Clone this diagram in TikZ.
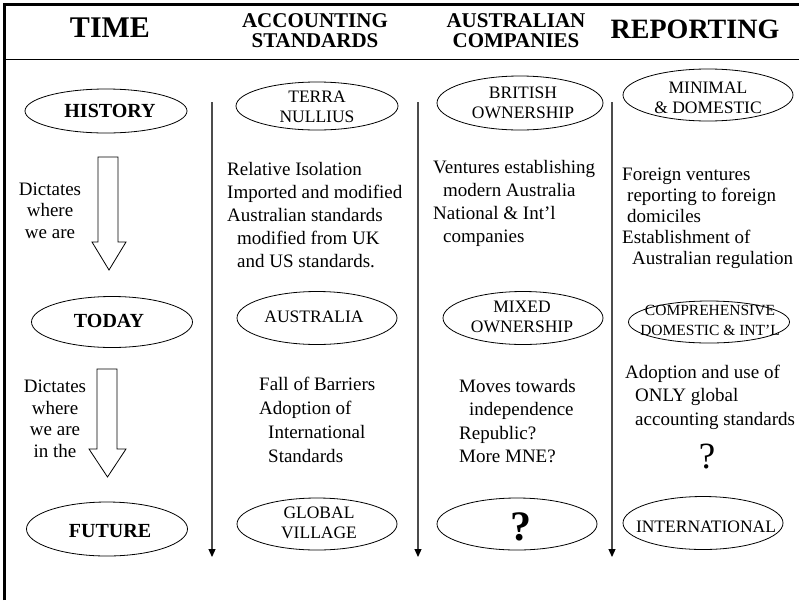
\documentclass[tikz,border=0pt]{standalone}
\usepackage{fontspec}
\setmainfont{Liberation Serif}
\usetikzlibrary{arrows.meta,shapes.geometric,positioning}

\begin{document}
\begin{tikzpicture}[x=1pt,y=-1pt]
        \tikzset{
            oval/.style={
                    draw,
                    ellipse,
                    inner sep=0pt,
                    line width=0.8pt
                },
            ovaltext/.style={align=center, anchor=base, inner sep=0pt,
                    font=\fontsize{17.5}{19.5}\selectfont},
            timetext/.style={anchor=base, inner sep=0pt,
                    font=\bfseries\fontsize{20}{22}\selectfont},
            bodytext/.style={align=left, anchor=base west, inner sep=0pt,
                    font=\fontsize{19}{23}\selectfont},
            headtext/.style={align=center, anchor=base, inner sep=0pt,
                    font=\bfseries\fontsize{21}{19.5}\selectfont},
            timeline/.style={draw=black!70, line width=1.2pt,
                    -{Triangle[length=8pt,width=7pt,black]}},
            blockarrow/.style={draw, line width=0.8pt, fill=white}
        }
        \useasboundingbox (0,0) rectangle (799,600);
        % frame and header rule
        \draw[line width=3pt] (4.5,600) -- (4.5,4.5) -- (799,4.5);
        \draw[line width=1pt] (4.5,59) -- (799,59);

        % (multi-line nodes sit on the baseline of their last line)
        \node[headtext, font=\bfseries\fontsize{30}{32}\selectfont] (time) at (110,37) {TIME};
        \node[headtext] (accstd) at (315,47) {ACCOUNTING\\STANDARDS};
        \node[headtext] (auscomp) at (516,47) {AUSTRALIAN\\COMPANIES};
        \node[headtext, font=\bfseries\fontsize{28}{30}\selectfont] (reporting) at (695,38) {REPORTING};

        % time lines between the columns
        \foreach \x/\n in {212/a,418/b,612/c} {
            \coordinate (top-\n) at (\x,102);
            \coordinate (bot-\n) at (\x,557);
            \draw[timeline] (top-\n) -- (bot-\n);
        }

        % TIME column
        \node[oval, minimum width=162pt, minimum height=44pt] (history) at (106,111) {};
        \node[timetext] (history-t) at (110,117) {HISTORY};
        \node[oval, minimum width=161pt, minimum height=51pt] (today) at (112,322) {};
        \node[timetext] (today-t) at (109,327) {TODAY};
        \node[oval, minimum width=161pt, minimum height=54pt] (future) at (107,529) {};
        \node[timetext] (future-t) at (110,537) {FUTURE};

        \draw[blockarrow] (98,157) -- (118,157) -- (118,242) -- (126,242) -- (109,270)
            -- (92,242) -- (98,242) -- cycle;
        \draw[blockarrow] (97,369) -- (117,369) -- (117,449) -- (126,449) -- (107.5,477)
            -- (89,449) -- (97,449) -- cycle;
        \node[align=center, anchor=base, inner sep=0pt, font=\fontsize{19}{21.5}\selectfont]
            (dict1) at (50,238) {Dictates\\where\\we are};
        \node[align=center, anchor=base, inner sep=0pt, font=\fontsize{19}{21.5}\selectfont]
            (dict2) at (55,457) {Dictates\\where\\we are\\in the};

        % ACCOUNTING STANDARDS column
        \node[oval, minimum width=162pt, minimum height=48pt] (terra) at (317,106) {};
        \node[ovaltext] (terra-t) at (317,122) {TERRA\\NULLIUS};
        \node[bodytext] (acc1) at (227,267) {Relative Isolation\\Imported and modified\\Australian standards\\
            \hspace*{10pt}modified from UK\\\hspace*{10pt}and US standards.};
        \node[oval, minimum width=160pt, minimum height=53pt] (australia) at (317,318) {};
        \node[ovaltext] (australia-t) at (314,322) {AUSTRALIA};
        \node[bodytext, font=\fontsize{19}{24}\selectfont] (acc2) at (259,462) {Fall of Barriers\\Adoption of\\
            \hspace*{9pt}International\\\hspace*{9pt}Standards};
        \node[oval, minimum width=160pt, minimum height=52pt] (global) at (317,524) {};
        \node[ovaltext] (global-t) at (319,538) {GLOBAL\\VILLAGE};

        % AUSTRALIAN COMPANIES column
        \node[oval, minimum width=166pt, minimum height=54pt] (british) at (520,103) {};
        \node[ovaltext] (british-t) at (523,118) {BRITISH\\OWNERSHIP};
        \node[bodytext] (comp1) at (433,242) {Ventures establishing\\\hspace*{10pt}modern Australia\\
            National \& Int'l\\\hspace*{10pt}companies};
        \node[oval, minimum width=160pt, minimum height=53pt] (mixed) at (523,318) {};
        \node[ovaltext] (mixed-t) at (522,332) {MIXED\\OWNERSHIP};
        \node[bodytext, font=\fontsize{19}{23.5}\selectfont] (comp2) at (459,462.5) {Moves towards\\
            \hspace*{10pt}independence\\Republic?\\More MNE?};
        \node[oval, minimum width=160pt, minimum height=52pt] (unknown) at (517,524) {};
        \node[ovaltext, font=\bfseries\fontsize{42}{44}\selectfont] (unknown-t) at (521,540) {?};

        % REPORTING column
        \node[oval, minimum width=170pt, minimum height=52pt] (minimal) at (708,95) {};
        \node[ovaltext] (minimal-t) at (708,113) {MINIMAL\\\& DOMESTIC};
        \node[bodytext, font=\fontsize{19}{21}\selectfont] (rep1) at (622,264) {Foreign ventures\\
            \hspace*{5pt}reporting to foreign\\\hspace*{5pt}domiciles\\Establishment of\\
            \hspace*{10pt}Australian regulation};
        \node[oval, minimum width=161pt, minimum height=42pt] (compr) at (709,322) {};
        \node[ovaltext, font=\fontsize{15.5}{20}\selectfont] (compr-t) at (710,335)
            {COMPREHENSIVE\\DOMESTIC \& INT'L};
        \node[bodytext, font=\fontsize{19}{23.5}\selectfont] (rep2) at (625,425) {Adoption and use of\\
            \hspace*{10pt}ONLY global\\\hspace*{10pt}accounting standards};
        \node[ovaltext, font=\fontsize{37}{40}\selectfont] (rep-q) at (707,468) {?};
        \node[oval, minimum width=160pt, minimum height=53pt] (intl) at (703,523) {};
        \node[ovaltext] (intl-t) at (706,532) {INTERNATIONAL};
\end{tikzpicture}
\end{document}
